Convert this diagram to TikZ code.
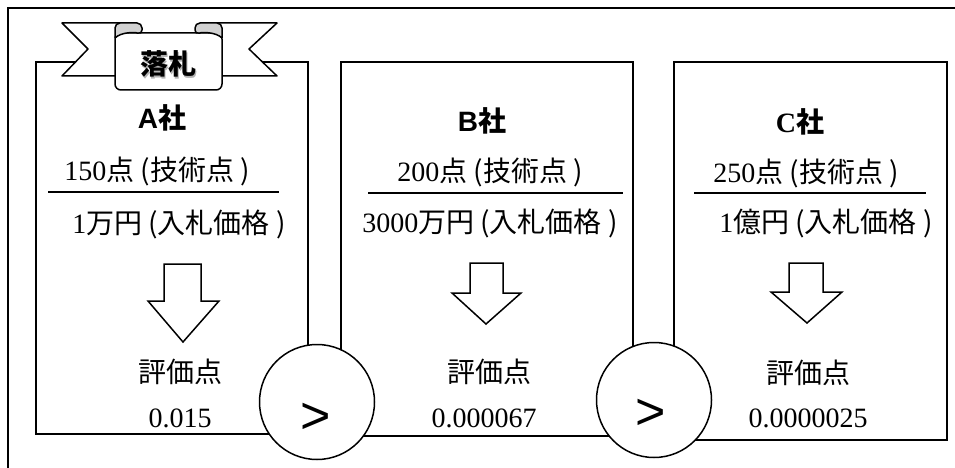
\documentclass[tikz,border=0pt]{standalone}
\usepackage{fontspec}
\setmainfont{Liberation Serif}
\setsansfont{Liberation Sans}
\newfontfamily\jp{Noto Sans CJK JP}
\usepackage{tikz}

\begin{document}
\begin{tikzpicture}[x=1pt, y=-1pt,
  every node/.style={inner sep=0pt, outer sep=0pt, font=\fontsize{28}{32}\selectfont},
  frame/.style={draw=black, line width=2pt},
  ribbon/.style={draw=black, fill=white, line width=1.5pt, line join=round},
  curl/.style={draw=black, fill=gray!35, line width=1.5pt, rounded corners=5pt},
  sepline/.style={draw=black, line width=1.5pt},
  downarrow/.style={draw=black, fill=white, line width=1.5pt, line join=miter},
  ring/.style={draw=black, fill=white, line width=1.5pt, circle, minimum size=115pt},
  gtsign/.style={font=\fontsize{52}{56}\selectfont\sffamily}]
\useasboundingbox (0,0) rectangle (955,468);

% outer frame and the three boxes
\draw[frame] (8,8) rectangle (975,490);
\draw[frame] (36,62) rectangle (308,434);
\draw[frame] (341,62) rectangle (633,436);
\draw[frame] (674,62) rectangle (947,440);

% ribbon
\draw[ribbon] (62,23) -- (122,23) -- (122,76) -- (62,76) -- (88,49) -- cycle;
\draw[ribbon] (277,23) -- (215,23) -- (215,76) -- (277,76) -- (249,49) -- cycle;
\draw[ribbon, rounded corners=6pt] (115,33) rectangle (222,90);
\draw[curl] (115,38) -- (115,23) -- (142,23) -- (142,35) .. controls (135,32) and (121,32) .. (115,38);
\draw[curl] (222,38) -- (222,23) -- (195,23) -- (195,35) .. controls (202,32) and (216,32) .. (222,38);
\node[text=gray!60] (winshadow) at (169.5,65.5) {\jp\bfseries 落札};
\node (win) at (168,64) {\jp\bfseries 落札};

% A
\node (nameA) at (162,118) {\sffamily\bfseries A{\jp 社}};
\node (techA) at (157,171) {150{\jp 点 (技術点 )}};
\draw[sepline] (48,192) -- (279,192);
\node (priceA) at (179,224) {1{\jp 万円 (入札価格 )}};
\draw[downarrow] (164,264) -- (201,264) -- (201,301) -- (219,301) -- (183,342) -- (148,301) -- (164,301) -- cycle;
\node (evalA) at (180,372) {\jp 評価点};
\node (scoreA) at (180,418) {0.015};

% B
\node (nameB) at (482,121) {\sffamily\bfseries B{\jp 社}};
\node (techB) at (490,172) {200{\jp 点 (技術点 )}};
\draw[sepline] (368,193) -- (623,193);
\node (priceB) at (490,223) {3000{\jp 万円 (入札価格 )}};
\draw[downarrow] (470,263) -- (503,263) -- (503,293) -- (521,293) -- (486,324) -- (452,293) -- (470,293) -- cycle;
\node (evalB) at (489,372) {\jp 評価点};
\node (scoreB) at (484,418) {0.000067};

% C
\node (nameC) at (800,122) {\bfseries C{\jp 社}};
\node (techC) at (806,173) {250{\jp 点 (技術点 )}};
\draw[sepline] (694,193) -- (926,193);
\node (priceC) at (826,223) {1{\jp 億円 (入札価格 )}};
\draw[downarrow] (789,263) -- (823,263) -- (823,292) -- (842,292) -- (807,323) -- (771,292) -- (789,292) -- cycle;
\node (evalC) at (808,373) {\jp 評価点};
\node (scoreC) at (808,418) {0.0000025};

% comparison circles
\node[ring] (gtAB) at (317,402) {};
\node[gtsign] (gtABsign) at (316,418) {>};
\node[ring] (gtBC) at (654,400) {};
\node[gtsign] (gtBCsign) at (651,414) {>};
\end{tikzpicture}
\end{document}
